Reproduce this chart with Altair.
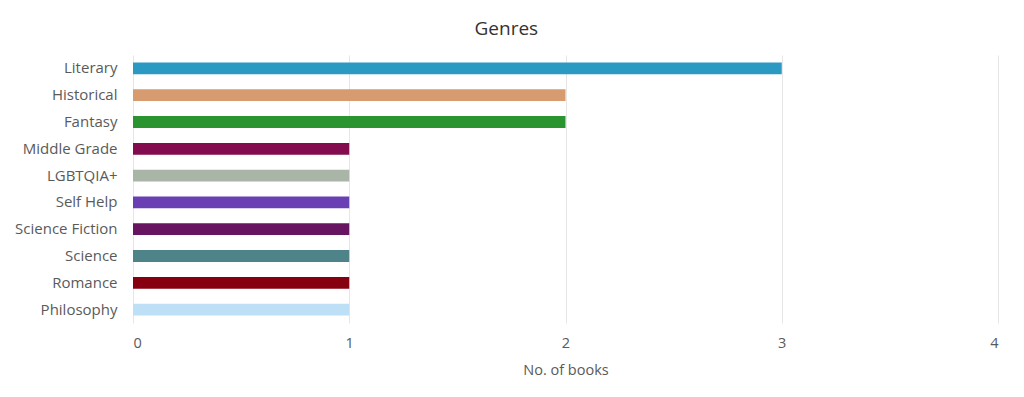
import altair as alt
import pandas as pd

genres = ["Literary", "Historical", "Fantasy", "Middle Grade", "LGBTQIA+",
          "Self Help", "Science Fiction", "Science", "Romance", "Philosophy"]
books = [3, 2, 2, 1, 1, 1, 1, 1, 1, 1]
colors = ["#2b9ac3", "#d69b6f", "#2a9530", "#830c4f", "#a9b5a6",
          "#6a3fb3", "#671461", "#4e8389", "#870010", "#bde0f6"]

df = pd.DataFrame({"genre": genres, "books": books, "color": colors})

FONT = "Open Sans"

chart = alt.Chart(df).mark_bar().encode(
    y=alt.Y("genre:N", sort=genres,
            scale=alt.Scale(paddingInner=0.56, paddingOuter=0.28),
            axis=alt.Axis(title=None, domain=False, ticks=False, grid=False,
                          labelFont=FONT, labelFontSize=15, labelColor="#5a5a5a",
                          labelPadding=16)),
    x=alt.X("books:Q", scale=alt.Scale(domain=[0, 4], nice=False),
            axis=alt.Axis(title="No. of books", values=[0, 1, 2, 3, 4],
                          domain=False, ticks=False, grid=True,
                          gridColor="#e6e6e6", labelFont=FONT, labelFontSize=14.5,
                          labelColor="#5a5a5a", labelPadding=13,
                          titleFont=FONT, titleFontSize=14.5, titleFontWeight="normal",
                          titleColor="#5a5a5a", titlePadding=14)),
    color=alt.Color("color:N", scale=None),
).properties(
    width=865,
    height=268,
    title=alt.TitleParams("Genres", font=FONT, fontSize=19, fontWeight=500,
                          color="#333333", anchor="middle", frame="bounds", offset=16),
    autosize=alt.AutoSizeParams(type="none"),
    padding={"left": 125, "top": 47, "right": 18, "bottom": 72},
).configure_view(stroke=None)

chart.save("out.html", embed_options={"renderer": "svg", "actions": False})
